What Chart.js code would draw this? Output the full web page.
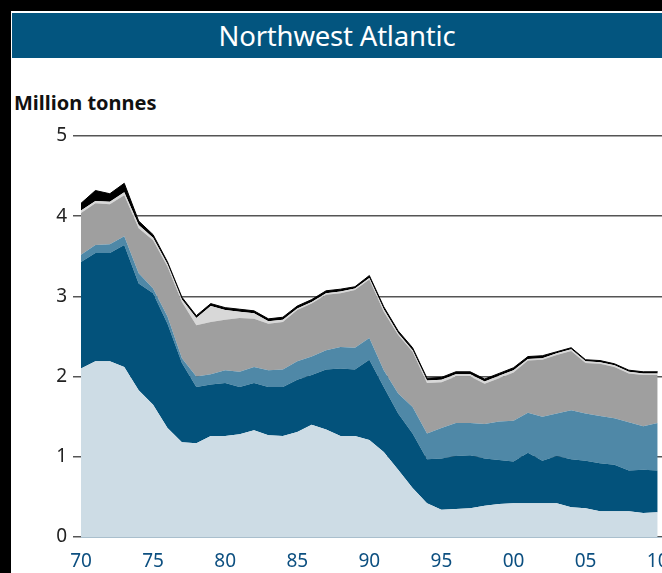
<!DOCTYPE html>
<html>
<head>
<meta charset="utf-8">
<script src="https://cdn.jsdelivr.net/npm/chart.js@4/dist/chart.umd.min.js"></script>
<style>
  body { margin: 0; background: #000; width: 662px; height: 573px; overflow: hidden; position: relative; font-family: "Noto Sans", "Open Sans", sans-serif; }
  #page { position: absolute; left: 11px; top: 11px; width: 651px; height: 562px; background: #fff; }
  #head { position: absolute; left: 12px; top: 13px; width: 650px; height: 45px; background: #03557f; color: #fff; font-size: 27.5px; line-height: 45px; text-align: center; letter-spacing: -0.2px; }
  #unit { position: absolute; left: 14px; top: 91px; font-size: 20px; font-weight: bold; color: #111; line-height: 24px; }
  #wrap { position: absolute; left: 12px; top: 120px; width: 650px; height: 453px; }
</style>
</head>
<body>
<div id="page"></div>
<div id="head">Northwest Atlantic</div>
<div id="unit">Million tonnes</div>
<div id="wrap"><canvas id="area"></canvas></div>
<script>
    const years = [1970,1971,1972,1973,1974,1975,1976,1977,1978,1979,1980,1981,1982,1983,1984,1985,1986,1987,1988,1989,1990,
                   1991,1992,1993,1994,1995,1996,1997,1998,1999,2000,2001,2002,2003,2004,2005,2006,2007,2008,2009,2010];
    // tops of each stacked band, million tonnes
    const topLight = [2.10,2.19,2.19,2.12,1.83,1.65,1.36,1.18,1.17,1.26,1.26,1.28,1.33,1.27,1.26,1.31,1.40,1.34,1.26,1.26,1.21,
                      1.06,0.84,0.61,0.42,0.34,0.35,0.36,0.39,0.41,0.42,0.42,0.42,0.42,0.37,0.36,0.32,0.32,0.32,0.30,0.31];
    const topNavy = [3.43,3.54,3.54,3.64,3.16,3.04,2.66,2.17,1.87,1.90,1.92,1.87,1.92,1.87,1.87,1.96,2.02,2.09,2.10,2.09,2.21,
                     1.87,1.54,1.29,0.97,0.98,1.01,1.02,0.98,0.96,0.94,1.05,0.95,1.01,0.97,0.95,0.92,0.90,0.83,0.84,0.83];
    const topMid = [3.52,3.64,3.65,3.75,3.29,3.10,2.75,2.23,2.00,2.03,2.08,2.06,2.12,2.08,2.09,2.19,2.25,2.33,2.37,2.36,2.48,
                    2.08,1.79,1.62,1.29,1.36,1.42,1.42,1.41,1.44,1.45,1.55,1.50,1.54,1.58,1.54,1.51,1.48,1.43,1.38,1.42];
    const topGrey = [4.04,4.16,4.15,4.26,3.85,3.70,3.37,2.93,2.64,2.68,2.71,2.73,2.72,2.66,2.68,2.83,2.91,3.02,3.04,3.08,3.21,
                     2.81,2.52,2.31,1.92,1.93,2.00,2.00,1.91,1.98,2.05,2.20,2.21,2.27,2.32,2.17,2.16,2.12,2.04,2.02,2.02];
    const topPale = [4.07,4.19,4.18,4.30,3.89,3.73,3.40,2.96,2.73,2.88,2.83,2.81,2.79,2.69,2.71,2.85,2.93,3.04,3.06,3.10,3.23,
                     2.84,2.54,2.33,1.95,1.96,2.03,2.03,1.94,2.01,2.08,2.22,2.23,2.29,2.34,2.19,2.18,2.14,2.06,2.04,2.04];
    const topBlack = [4.16,4.32,4.28,4.41,3.94,3.77,3.43,2.99,2.76,2.91,2.86,2.84,2.82,2.72,2.74,2.88,2.96,3.07,3.09,3.12,3.26,
                      2.87,2.57,2.36,1.98,1.99,2.06,2.06,1.97,2.04,2.11,2.25,2.26,2.31,2.36,2.21,2.20,2.16,2.08,2.06,2.06];
    const yTicks = [0,1,2,3,4,5];

    function pts(arr) {
        return arr.map((v, i) => ({ x: years[i], y: v }));
    }
    function band(arr, color, fill) {
        return { data: pts(arr), backgroundColor: color, borderWidth: 0, fill: fill, pointRadius: 0, tension: 0 };
    }

    const ctx = document.getElementById('area');
    let mychart = new Chart(ctx, {
        type: 'line',
        data: {
            datasets: [
                band(topLight, '#cddce5', 'origin'),
                band(topNavy, '#03527b', '-1'),
                band(topMid, '#4f88a7', '-1'),
                band(topGrey, '#9f9f9f', '-1'),
                band(topPale, '#d8d8d8', '-1'),
                { data: pts(topBlack), backgroundColor: '#000', borderColor: '#000', borderWidth: 1,
                  fill: '-1', pointRadius: 0, tension: 0 }
            ]
        },
        options: {
            responsive: true,
            maintainAspectRatio: false,
            animation: false,
            layout: { padding: { left: 0, right: 0, top: 16, bottom: 0 } },
            plugins: { legend: { display: false }, tooltip: { enabled: false } },
            scales: {
                x: {
                    type: 'linear',
                    min: 1970,
                    max: 2010.3,
                    grid: { display: false },
                    border: { display: true, color: '#a9bfcd', width: 1 },
                    ticks: {
                        stepSize: 5,
                        includeBounds: false,
                        padding: 5,
                        maxRotation: 0,
                        autoSkip: false,
                        color: '#0c4f80',
                        font: { family: 'Noto Sans', size: 19 },
                        callback: v => String(v % 100).padStart(2, '0')
                    },
                    afterFit: s => { s.height = 36; s.paddingLeft = 0; s.paddingRight = 0; }
                },
                y: {
                    min: 0,
                    max: 5,
                    afterBuildTicks: s => { s.ticks = yTicks.map(v => ({ value: v })); },
                    grid: { color: '#555', lineWidth: 1.5, tickLength: 8, tickColor: '#555' },
                    border: { display: false },
                    ticks: {
                        padding: 6,
                        color: '#222',
                        font: { family: 'Noto Sans', size: 19 }
                    },
                    afterFit: s => { s.width = 69; s.paddingTop = 0; s.paddingBottom = 0; }
                }
            }
        }
    });
</script>
</body>
</html>
